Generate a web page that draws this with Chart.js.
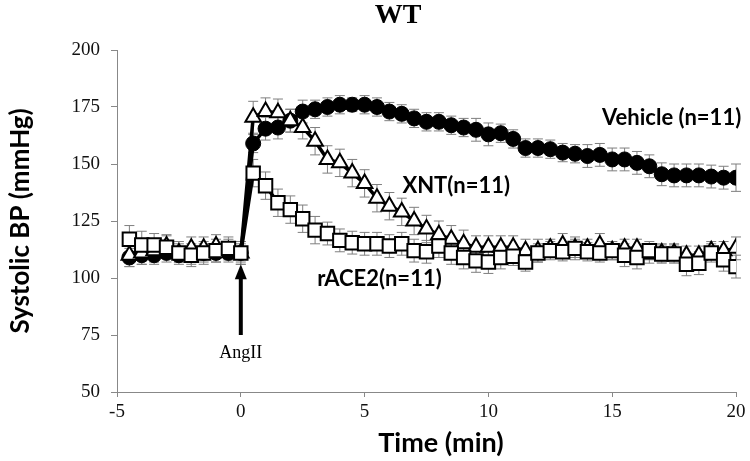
<!DOCTYPE html>
<html>
<head>
  <title>WT Systolic BP</title>
  <script src="https://cdn.jsdelivr.net/npm/chart.js"></script>
  <style>
    body { margin: 0; background: #fff; }
    #wrap { width: 750px; height: 461px; }
  </style>
</head>
<body>
  <div id="wrap"><canvas id="bpChart" width="750" height="461"></canvas></div>

  <script>
    // time points (min), one reading every 30 s
    const timeMin = [-4.5, -4, -3.5, -3, -2.5, -2, -1.5, -1, -0.5, 0,
      0.5, 1, 1.5, 2, 2.5, 3, 3.5, 4, 4.5, 5,
      5.5, 6, 6.5, 7, 7.5, 8, 8.5, 9, 9.5, 10,
      10.5, 11, 11.5, 12, 12.5, 13, 13.5, 14, 14.5, 15,
      15.5, 16, 16.5, 17, 17.5, 18, 18.5, 19, 19.5, 20];

    // mean systolic BP (mmHg)
    const vehicleBP = [109, 110, 110, 111, 110, 110, 111, 111, 111, 111,
      159, 165.5, 166, 169, 173, 174, 175, 176, 176, 176,
      175, 173, 172, 170, 168.5, 168.5, 167, 166, 165, 163,
      163.5, 161, 157, 157, 156.5, 155, 154.5, 153.5, 154, 152,
      152, 150.5, 149, 145.5, 145, 145, 145, 144.5, 144, 144];
    const xntBP = [110, 111, 112, 114, 111, 113, 113, 114, 112, 111,
      170.5, 173, 172.5, 169, 166, 160, 152, 150.5, 146, 141.5,
      135, 131.5, 129, 125, 121.5, 119, 117, 115, 113.5, 113.5,
      113.5, 113.5, 112, 112, 113, 114.5, 113, 113, 114.5, 112,
      113, 113, 110.5, 111, 111, 110, 110, 112, 112, 113];
    const race2BP = [117, 114.5, 114.5, 113.5, 111, 110, 111, 112, 113, 111,
      146, 140.5, 133, 130, 126, 121, 119.5, 116.5, 115.5, 115,
      115, 114, 115, 112, 111.5, 114, 111, 109, 107.5, 107,
      109, 109.5, 107, 111, 112, 111.5, 113, 111.5, 111, 112,
      110, 109, 112, 110.5, 110.5, 106, 106.5, 111, 108, 105];

    // SEM (mmHg)
    const vehicleSEM = [4, 4, 4, 4, 3, 4, 4, 4, 3, 4,
      4, 5, 5, 5, 5, 4, 4, 4, 3, 4,
      4, 4, 4, 4, 4, 4, 4, 4, 5, 5,
      4, 4, 4, 4, 4, 4, 4, 5, 5, 5,
      5, 5, 5, 5, 5, 5, 5, 5, 5, 6];
    const xntSEM = [5, 5, 5, 5, 4, 5, 5, 5, 5, 5,
      7, 6, 6, 5, 5, 6, 6, 6, 6, 6,
      6, 6, 6, 6, 6, 6, 6, 6, 5, 5,
      5, 5, 5, 5, 4, 5, 5, 4, 5, 4,
      4, 4, 4, 4, 4, 4, 4, 4, 4, 5];
    const race2SEM = [6, 6, 5, 5, 5, 5, 5, 5, 5, 5,
      6, 6, 6, 6, 6, 6, 5, 5, 5, 5,
      5, 5, 5, 5, 5, 5, 5, 5, 5, 5,
      5, 4, 4, 4, 4, 4, 4, 4, 4, 4,
      5, 5, 4, 4, 4, 5, 5, 4, 5, 5];

    const yTicks = [50, 75, 100, 125, 150, 175, 200];
    const xTicks = [-5, 0, 5, 10, 15, 20];

    // text annotations, placed in data units
    const seriesLabels = [
      { text: 'Vehicle (n=11)', t: 17.4, v: 170 },
      { text: 'XNT(n=11)', t: 8.7, v: 140.5 },
      { text: 'rACE2(n=11)', t: 5.6, v: 99.5 }
    ];
    const arrowAt = { t: 0, from: 75, to: 106, label: 'AngII', labelV: 67 };

    const toXY = (ys) => ys.map((y, i) => ({ x: timeMin[i], y: y }));

    // error bars under the markers
    const errorBars = {
      id: 'errorBars',
      beforeDatasetsDraw(chart) {
        const ctx = chart.ctx;
        const xs = chart.scales.x, ys = chart.scales.y;
        const sems = [vehicleSEM, xntSEM, race2SEM];
        ctx.save();
        ctx.strokeStyle = '#7f7f7f';
        ctx.lineWidth = 1;
        chart.data.datasets.forEach((ds, k) => {
          ds.data.forEach((p, i) => {
            const px = xs.getPixelForValue(p.x);
            const top = ys.getPixelForValue(p.y + sems[k][i]);
            const bot = ys.getPixelForValue(p.y - sems[k][i]);
            ctx.beginPath();
            ctx.moveTo(px, top); ctx.lineTo(px, bot);
            ctx.moveTo(px - 5, top); ctx.lineTo(px + 5, top);
            ctx.moveTo(px - 5, bot); ctx.lineTo(px + 5, bot);
            ctx.stroke();
          });
        });
        ctx.restore();
      }
    };

    // title, series names, AngII arrow, x title
    const annotations = {
      id: 'annotations',
      afterDraw(chart) {
        const ctx = chart.ctx;
        const xs = chart.scales.x, ys = chart.scales.y;
        ctx.save();
        ctx.fillStyle = '#000';
        ctx.textAlign = 'center';
        ctx.textBaseline = 'middle';

        ctx.font = 'bold 28px "Liberation Serif"';
        ctx.fillText('WT', 398, 16);

        ctx.font = 'bold 27px Lato';
        ctx.fillText('Time (min)', 441, 443);

        ctx.font = 'bold 22px Lato';
        seriesLabels.forEach(l => {
          ctx.fillText(l.text, xs.getPixelForValue(l.t), ys.getPixelForValue(l.v));
        });

        const ax = xs.getPixelForValue(arrowAt.t);
        const tail = ys.getPixelForValue(arrowAt.from);
        const tip = ys.getPixelForValue(arrowAt.to);
        ctx.strokeStyle = '#000';
        ctx.lineWidth = 4;
        ctx.beginPath();
        ctx.moveTo(ax, tail); ctx.lineTo(ax, tip + 10);
        ctx.stroke();
        ctx.beginPath();
        ctx.moveTo(ax, tip);
        ctx.lineTo(ax - 6, tip + 15);
        ctx.lineTo(ax + 6, tip + 15);
        ctx.closePath();
        ctx.fill();

        ctx.font = '18px "Liberation Serif"';
        ctx.fillText(arrowAt.label, ax, ys.getPixelForValue(arrowAt.labelV));
        ctx.restore();
      }
    };

    new Chart(document.getElementById('bpChart'), {
      type: 'line',
      data: {
        datasets: [
          {
            label: 'Vehicle',
            data: toXY(vehicleBP),
            borderColor: '#000',
            borderWidth: 3.5,
            pointStyle: 'circle',
            pointRadius: 7.5,
            pointBackgroundColor: '#000',
            pointBorderColor: '#000',
            pointBorderWidth: 1,
            order: 2
          },
          {
            label: 'XNT',
            data: toXY(xntBP),
            borderColor: '#000',
            borderWidth: 3.5,
            pointStyle: 'triangle',
            pointRadius: 9,
            pointBackgroundColor: '#fff',
            pointBorderColor: '#000',
            pointBorderWidth: 2,
            order: 1
          },
          {
            label: 'rACE2',
            data: toXY(race2BP),
            borderColor: '#000',
            borderWidth: 3.5,
            pointStyle: 'rect',
            pointRadius: 9.5,
            pointBackgroundColor: '#fff',
            pointBorderColor: '#000',
            pointBorderWidth: 2,
            order: 0
          }
        ]
      },
      options: {
        responsive: false,
        animation: false,
        layout: { padding: { top: 50, right: 14, bottom: 0, left: 0 } },
        plugins: {
          legend: { display: false },
          tooltip: { enabled: false },
          title: { display: false }
        },
        scales: {
          x: {
            type: 'linear',
            min: -5,
            max: 20,
            afterBuildTicks: (s) => { s.ticks = xTicks.map(v => ({ value: v })); },
            afterFit: (s) => { s.height = 69; },
            grid: { drawOnChartArea: false, color: '#888', tickLength: 5 },
            border: { color: '#888', width: 1 },
            ticks: { color: '#111', padding: 4, font: { family: 'Liberation Serif', size: 19 } },
            title: { display: false }
          },
          y: {
            min: 50,
            max: 200,
            afterBuildTicks: (s) => { s.ticks = yTicks.map(v => ({ value: v })); },
            afterFit: (s) => { s.width = 117; },
            grid: { drawOnChartArea: false, color: '#888', tickLength: 6 },
            border: { color: '#888', width: 1 },
            ticks: { color: '#111', padding: 11, font: { family: 'Liberation Serif', size: 19 } },
            title: {
              display: true,
              text: 'Systolic BP (mmHg)',
              color: '#000',
              padding: { top: 5, bottom: 0 },
              font: { family: 'Lato', size: 26, weight: 'bold' }
            }
          }
        }
      },
      plugins: [errorBars, annotations]
    });
  </script>
</body>
</html>
